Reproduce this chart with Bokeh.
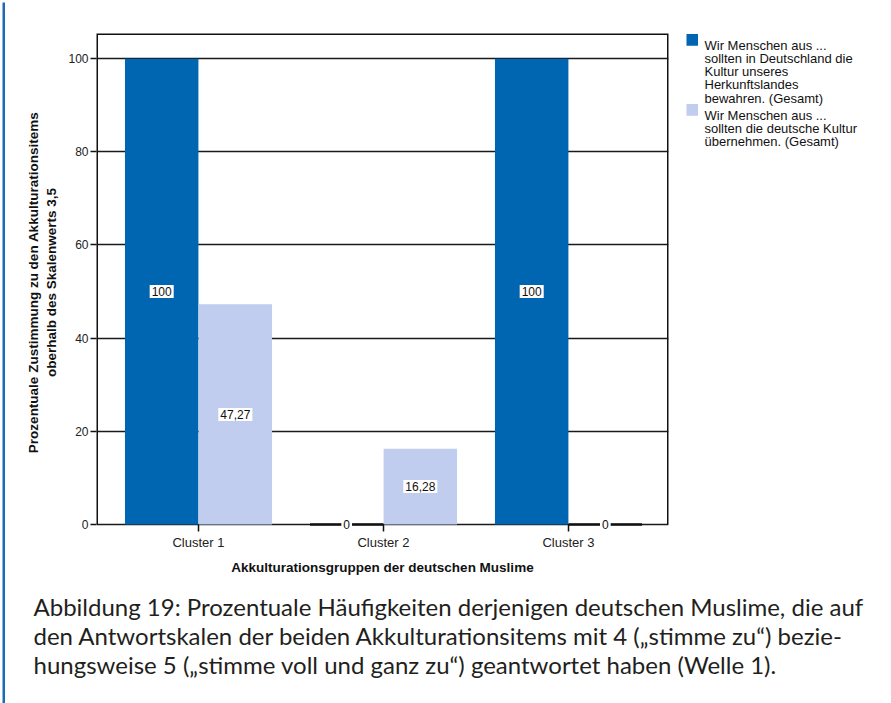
from bokeh.plotting import figure
from bokeh.models import Range1d, ColumnDataSource, Label, FixedTicker
from bokeh.layouts import row, column
from bokeh.core.properties import value
from bokeh.embed import file_html
from bokeh.resources import INLINE

# ---- data ----
clusters = ["Cluster 1", "Cluster 2", "Cluster 3"]
cluster_pos = [1, 2, 3]
bewahren = [100, 0, 100]          # dark series
uebernehmen = [47.27, 16.28, 0]   # light series
series_labels = [
    "Wir Menschen aus ...\nsollten in Deutschland die\nKultur unseres\nHerkunftslandes\nbewahren. (Gesamt)",
    "Wir Menschen aus ...\nsollten die deutsche Kultur\nübernehmen. (Gesamt)",
]
y_ticks = [0, 20, 40, 60, 80, 100]
x_title = "Akkulturationsgruppen der deutschen Muslime"
y_title = "Prozentuale Zustimmung zu den Akkulturationsitems\noberhalb des Skalenwerts 3,5"
caption = ("Abbildung 19: Prozentuale Häufigkeiten derjenigen deutschen Muslime, die auf\n"
           "den Antwortskalen der beiden Akkulturationsitems mit 4 (\u201estimme zu\u201c) bezie-\n"
           "hungsweise 5 (\u201estimme voll und ganz zu\u201c) geantwortet haben (Welle 1).")

# ---- style ----
DARK = "#0066b1"
LIGHT = "#c1cdee"
FRAME_BLUE = "#1a6cb5"
INK = "#111111"
FONT = "Liberation Sans"
CAP_FONT = "Lato"
OFF = 0.199
BW = 0.397

def fmt(v):
    return f"{v:g}".replace(".", ",")

def blank(w, h, top=0, bottom=0):
    f = figure(width=w, height=h, output_backend="svg", toolbar_location=None,
               x_range=Range1d(0, w), y_range=Range1d(h - top - bottom, 0), min_border=0,
               x_axis_location=None, y_axis_location=None, title=None)
    f.min_border_top = top
    f.min_border_bottom = bottom
    f.outline_line_color = None
    f.grid.visible = False
    f.background_fill_color = "white"
    f.border_fill_color = "white"
    return f

# ---- main chart ----
MW, MH = 675, 583
ML, MR, MT, MB = 91, 12, 28, 57
X0, X1 = 0.4486, 3.5405
Y0, Y1 = -1.502, 105.4

p = figure(width=MW, height=MH, output_backend="svg", toolbar_location=None,
           x_range=Range1d(X0, X1), y_range=Range1d(Y0, Y1),
           min_border_left=ML, min_border_right=MR, min_border_top=MT, min_border_bottom=MB,
           title=None)
p.background_fill_color = "white"
p.border_fill_color = "white"
p.outline_line_color = None

dark_x = [c - OFF for c in cluster_pos]
light_x = [c + OFF for c in cluster_pos]

p.vbar(x="x", top="top", bottom=0, width=BW, source=ColumnDataSource(dict(x=dark_x, top=bewahren)),
       fill_color=DARK, line_color=None)
p.vbar(x="x", top="top", bottom=0, width=BW, source=ColumnDataSource(dict(x=light_x, top=uebernehmen)),
       fill_color=LIGHT, line_color=None)

# frame box (left, top, right); bottom edge is the 0 grid line
p.line(x=[X0, X0, X1, X1], y=[0, Y1, Y1, 0], line_color=INK, line_width=3)

# zero-valued bars shown as a line at the baseline
zx0, zx1 = [], []
for xs, vals in ((dark_x, bewahren), (light_x, uebernehmen)):
    for x, v in zip(xs, vals):
        if v == 0:
            zx0.append(x - BW / 2)
            zx1.append(x + BW / 2)
p.segment(x0=zx0, x1=zx1, y0=[0] * len(zx0), y1=[0] * len(zx0),
          line_color=INK, line_width=2.3)

# value labels
has_pad = "padding" in Label.properties()
for xs, vals in ((dark_x, bewahren), (light_x, uebernehmen)):
    for x, v in zip(xs, vals):
        kw = dict(x=x, y=v / 2, text=fmt(v), text_align="center", text_baseline="middle",
                  text_font=FONT, text_font_size="12px", text_color=INK,
                  background_fill_color="white")
        if has_pad:
            kw["padding"] = 2
        p.add_layout(Label(**kw))

# axes
p.xgrid.visible = False
p.ygrid.grid_line_color = "#1a1a1a"
p.ygrid.grid_line_width = 1.4
p.yaxis.ticker = FixedTicker(ticks=y_ticks)
p.xaxis.ticker = FixedTicker(ticks=cluster_pos)
p.xaxis.major_label_overrides = {c: n for c, n in zip(cluster_pos, clusters)}
for ax in (p.xaxis[0], p.yaxis[0]):
    ax.axis_line_color = None
    ax.major_tick_line_color = INK
    ax.major_tick_line_width = 1.5
    ax.minor_tick_line_color = None
    ax.major_label_text_font = FONT
    ax.major_label_text_color = "#222222"
    ax.axis_label_text_font = FONT
    ax.axis_label_text_font_style = "bold"
    ax.axis_label_text_font_size = "13.5px"
    ax.axis_label_text_color = INK
p.xaxis.major_tick_in = 7
p.xaxis.major_tick_out = 0
p.yaxis.major_tick_in = 0
p.yaxis.major_tick_out = 6
p.xaxis.major_label_text_font_size = "13px"
p.yaxis.major_label_text_font_size = "12px"
p.xaxis.major_label_standoff = 3
p.yaxis.major_label_standoff = 2
p.xaxis.axis_label = x_title
p.yaxis.axis_label = y_title
p.xaxis.axis_label_standoff = 7
p.yaxis.axis_label_standoff = 6

# ---- legend panel (its frame matches the chart frame vertically) ----
LW = 211
lg = blank(LW, MH, top=MT, bottom=MB)
sq_top = [0.5, 70.5]
base0 = [11.5, 81.7]
LINE = 13.3
lg.quad(left=[6, 6], right=[17.5, 17.5], top=sq_top, bottom=[t + 11.7 for t in sq_top],
        fill_color=[DARK, LIGHT], line_color=None)
lx, ly, lt = [], [], []
for b, lbl in zip(base0, series_labels):
    for j, line in enumerate(lbl.split("\n")):
        lx.append(24)
        ly.append(b + j * LINE)
        lt.append(line)
lg.text(x="x", y="y", text="t", source=ColumnDataSource(dict(x=lx, y=ly, t=lt)),
        text_font=value(FONT), text_font_size="13px", text_color=INK,
        text_baseline="alphabetic", text_align="left")

# ---- caption panel ----
CW, CH = 891 - 5, 115
cp = blank(CW, CH)
cap_lines = caption.split("\n")
cp.text(x=[28] * len(cap_lines), y=[18 + 29.2 * i for i in range(len(cap_lines))], text=cap_lines,
        text_font=value(CAP_FONT), text_font_size="24px", text_color="#231f20",
        text_baseline="alphabetic", text_align="left")

# ---- blue border strips (left and top) ----
ls = blank(5, 703)
ls.quad(left=[2], right=[4.7], top=[2], bottom=[703], fill_color=FRAME_BLUE, line_color=None)
ts = blank(886, 5)
ts.quad(left=[0], right=[886], top=[2], bottom=[4.7], fill_color=FRAME_BLUE, line_color=None)

layout = row(ls, column(ts, row(p, lg), cp))

open("out.html", "w").write(file_html(layout, INLINE))
